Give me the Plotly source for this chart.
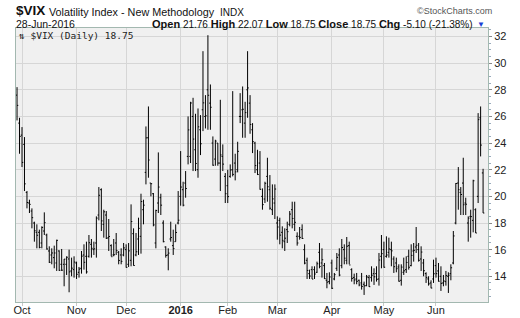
import pandas as pd
import plotly.graph_objects as go

# ---- data ----
holidays = ["2015-11-26", "2015-12-25", "2016-01-01", "2016-01-18",
            "2016-02-15", "2016-03-25", "2016-05-30"]
days = pd.bdate_range("2015-09-29", "2016-06-28")
dates = [d.strftime("%Y-%m-%d") for d in days if d.strftime("%Y-%m-%d") not in holidays]

opens = [27.6, 25.5, 24.6, 23.9, 20.3, 19.5, 18.9, 18.0, 17.3, 17.3,
         16.5, 17.4, 17.1, 15.9, 15.6, 15.4, 15.0, 15.9, 14.9, 14.9,
         14.9, 15.3, 14.4, 14.5, 15.0, 14.3, 14.6, 15.6, 15.5, 15.5,
         16.4, 16.0, 16.5, 18.6, 20.5, 17.9, 18.6, 16.9, 16.3, 15.6,
         16.5, 15.8, 15.6, 15.6, 16.0, 14.9, 15.2, 17.2, 15.6, 16.8,
         17.0, 19.0, 21.8, 24.4, 21.0, 20.2, 16.5, 19.5, 19.9, 18.0,
         16.2, 15.6, 16.8, 16.3, 16.6, 18.0, 20.0, 20.5, 21.0, 23.0,
         23.0, 26.0, 23.5, 22.0, 25.0, 26.5, 26.0, 28.0, 27.0, 24.0,
         22.8, 24.0, 22.5, 23.0, 21.5, 20.8, 21.5, 22.0, 22.5, 22.0,
         26.0, 26.5, 25.5, 28.0, 27.0, 25.0, 24.0, 22.0, 22.5, 20.0,
         19.8, 21.5, 20.5, 19.0, 19.5, 18.0, 18.2, 17.3, 16.6, 17.5,
         17.9, 19.0, 17.9, 17.0, 17.0, 17.5, 16.0, 15.2, 14.2, 14.5,
         14.5, 14.3, 15.8, 15.0, 14.8, 13.7, 13.6, 15.0, 13.8, 14.6,
         15.6, 14.8, 16.0, 15.2, 16.3, 14.5, 13.9, 13.8, 13.7, 13.5,
         13.4, 13.3, 13.9, 13.9, 14.2, 14.2, 13.8, 15.5, 16.0, 15.5,
         15.8, 16.0, 15.3, 15.0, 14.7, 13.7, 14.3, 14.5, 15.5, 14.8,
         15.9, 16.2, 16.0, 15.3, 15.0, 14.2, 13.8, 13.5, 13.8, 14.8,
         14.4, 14.0, 13.5, 13.6, 14.0, 14.2, 15.0, 18.0, 21.0, 20.3,
         21.0, 19.5, 18.0, 18.5, 18.2, 19.0, 20.0, 25.9, 21.76]
highs = [28.2, 25.9, 25.2, 24.45, 20.4, 19.75, 19.1, 18.1, 17.9, 17.5,
         17.75, 18.8, 17.2, 16.25, 16.1, 16.3, 16.75, 15.95, 16.05, 15.3,
         15.5, 16.0, 15.4, 15.5, 15.1, 14.7, 15.9, 16.4, 16.6, 17.1,
         16.8, 16.6, 18.5, 20.7, 20.6, 19.0, 18.9, 18.3, 16.4, 16.8,
         17.25, 15.9, 16.1, 16.5, 16.4, 16.5, 19.4, 17.6, 17.25, 18.4,
         20.2, 19.75, 25.25, 26.75, 21.0, 20.25, 19.0, 23.3, 20.2, 18.2,
         16.25, 16.1, 18.1, 17.5, 17.9, 20.4, 23.4, 21.1, 21.9, 26.0,
         27.1, 27.4, 26.2, 26.6, 26.1, 30.9, 27.6, 32.1, 28.4, 24.5,
         24.25, 24.0, 27.25, 23.9, 21.75, 22.0, 22.4, 27.9, 23.2, 24.1,
         27.75, 28.25, 27.1, 30.9, 27.6, 25.5, 24.1, 23.5, 23.4, 20.6,
         21.1, 22.9, 21.6, 20.9, 20.9, 18.5, 18.4, 17.75, 17.6, 18.1,
         18.9, 19.6, 19.6, 17.3, 17.7, 17.9, 16.4, 15.4, 14.5, 14.75,
         14.75, 15.1, 16.5, 16.1, 15.0, 14.25, 14.3, 15.25, 14.25, 15.75,
         16.1, 16.8, 16.4, 16.95, 16.6, 14.6, 14.2, 14.25, 13.75, 14.25,
         13.6, 14.1, 14.1, 14.75, 14.6, 14.75, 15.75, 17.1, 16.6, 17.0,
         16.9, 16.6, 15.5, 15.4, 14.9, 14.9, 15.4, 15.5, 16.0, 16.4,
         16.5, 17.7, 16.5, 16.25, 15.3, 14.3, 14.0, 13.7, 15.25, 15.4,
         15.0, 14.75, 14.1, 14.4, 14.3, 14.9, 17.4, 21.0, 22.2, 20.7,
         22.9, 19.9, 18.5, 19.0, 21.25, 19.1, 26.25, 26.75, 22.07]
lows = [25.7, 23.2, 22.2, 20.4, 19.1, 18.75, 17.6, 16.6, 16.1, 16.1,
        16.1, 17.1, 16.0, 15.0, 14.9, 14.6, 14.4, 14.4, 14.4, 13.25,
        14.1, 12.8, 14.0, 13.9, 13.8, 13.9, 14.2, 14.5, 14.2, 15.4,
        15.4, 15.6, 15.4, 18.2, 17.4, 16.9, 16.8, 15.9, 15.5, 15.5,
        15.6, 14.9, 14.9, 15.5, 14.65, 14.7, 14.75, 14.8, 15.5, 15.6,
        15.7, 17.9, 20.9, 21.4, 20.0, 17.75, 16.1, 18.75, 18.6, 16.55,
        15.4, 14.45, 16.6, 15.6, 16.6, 17.9, 19.3, 19.25, 19.9, 22.4,
        22.5, 21.9, 21.9, 21.4, 23.1, 24.9, 25.1, 25.0, 25.0, 22.3,
        22.3, 22.3, 20.4, 21.9, 19.5, 19.5, 21.4, 21.5, 21.2, 21.8,
        25.5, 24.4, 24.4, 25.9, 24.7, 23.25, 21.75, 21.6, 20.5, 19.0,
        19.5, 19.6, 19.0, 18.6, 18.3, 16.75, 16.4, 16.1, 15.9, 16.5,
        17.75, 17.6, 17.4, 16.3, 16.75, 16.8, 14.9, 13.8, 13.8, 13.8,
        13.8, 14.25, 14.6, 13.9, 13.8, 13.1, 13.4, 13.05, 13.7, 14.4,
        14.0, 14.6, 14.9, 14.9, 14.9, 13.6, 13.4, 13.4, 13.25, 13.0,
        12.6, 13.25, 13.2, 13.6, 13.35, 13.6, 13.3, 14.6, 14.65, 15.4,
        15.4, 14.75, 14.25, 14.3, 13.6, 13.3, 14.1, 14.25, 14.5, 14.75,
        15.1, 15.75, 15.1, 14.4, 14.0, 13.5, 13.3, 13.1, 13.5, 13.9,
        13.6, 12.9, 13.25, 13.3, 12.75, 13.7, 14.9, 17.9, 19.0, 18.6,
        18.6, 18.6, 16.6, 16.9, 17.3, 17.25, 19.5, 23.0, 18.75]
closes = [26.83, 24.50, 22.55, 20.94, 19.54, 19.40, 18.40, 17.42, 17.08, 16.17,
          17.67, 18.03, 16.05, 15.05, 15.75, 15.75, 16.70, 14.45, 14.46, 15.29,
          15.43, 14.33, 14.61, 15.07, 14.15, 14.54, 15.51, 15.05, 14.33, 16.52,
          16.10, 16.06, 18.37, 20.08, 18.16, 18.84, 16.85, 16.99, 15.47, 15.62,
          15.93, 15.19, 15.12, 16.13, 14.67, 15.91, 18.11, 14.81, 15.84, 17.60,
          19.61, 19.34, 24.39, 22.73, 20.95, 17.86, 18.94, 20.70, 19.34, 16.60,
          15.57, 15.74, 16.91, 16.08, 17.29, 18.21, 20.70, 19.34, 20.59, 24.99,
          27.01, 24.30, 22.47, 25.22, 23.95, 27.02, 26.05, 27.59, 26.69, 22.34,
          24.15, 22.50, 23.11, 22.42, 20.20, 19.98, 21.98, 21.65, 21.84, 23.38,
          26.00, 26.54, 26.29, 28.14, 25.40, 24.11, 22.31, 21.64, 20.53, 19.38,
          20.98, 20.72, 19.11, 19.81, 20.55, 17.70, 17.09, 16.70, 16.86, 17.35,
          18.67, 18.34, 18.05, 16.50, 16.92, 16.84, 14.99, 14.44, 14.02, 13.79,
          14.17, 14.94, 14.74, 15.24, 13.82, 13.56, 13.95, 13.10, 14.12, 15.42,
          14.09, 16.16, 15.36, 16.26, 14.85, 13.84, 13.72, 13.62, 13.35, 13.24,
          13.28, 13.95, 13.22, 14.08, 13.96, 13.77, 15.22, 15.70, 14.68, 15.60,
          16.05, 15.91, 14.72, 14.57, 13.63, 14.69, 14.41, 15.04, 14.68, 15.57,
          15.95, 16.33, 15.20, 15.82, 14.42, 13.90, 13.43, 13.12, 14.19, 14.20,
          13.63, 13.47, 13.65, 14.05, 14.08, 14.64, 17.03, 20.97, 20.50, 20.14,
          19.37, 19.41, 18.37, 18.48, 21.17, 17.25, 25.76, 23.85, 18.75]

month_ticks = ["2015-10-01", "2015-11-02", "2015-12-01", "2016-01-04", "2016-02-01",
               "2016-03-01", "2016-04-01", "2016-05-02", "2016-06-01"]
month_labels = ["Oct", "Nov", "Dec", "<b>2016</b>", "Feb", "Mar", "Apr", "May", "Jun"]
y_ticks = [14, 16, 18, 20, 22, 24, 26, 28, 30, 32]

# ---- figure ----
W, H = 520, 318
L, R, T, B = 16, 488, 28, 302
FONT = "Arial, Liberation Sans, sans-serif"

fig = go.Figure(go.Ohlc(
    x=dates, open=opens, high=highs, low=lows, close=closes,
    increasing=dict(line=dict(color="black", width=1)),
    decreasing=dict(line=dict(color="black", width=1)),
    tickwidth=0.5, showlegend=False, hoverinfo="skip",
))

def px(x):
    return (x - L) / (R - L)

def py(y):
    return (B - y) / (B - T)

ann = []
def add(text, x, y, size, color="#111", xanchor="left", family=FONT):
    ann.append(dict(text=text, x=px(x), y=py(y), xref="paper", yref="paper",
                    xanchor=xanchor, yanchor="middle", showarrow=False,
                    font=dict(family=family, size=size, color=color)))

def lab(t):
    return '<span style="font-size:11px"><b>%s</b></span>' % t

add("<b>$VIX</b>", 14, 11, 13.5)
add("Volatility Index - New Methodology", 47, 12, 10.8)
add("INDX", 218, 12, 10)
add("©StockCharts.com", 494, 11, 9, color="#555", xanchor="right")
add("28-Jun-2016", 14, 24, 10.5)
add(lab("Open") + " 21.76 " + lab("High") + " 22.07 " + lab("Low") + " 18.75 "
    + lab("Close") + " 18.75 " + lab("Chg") + " -5.10 (-21.38%)",
    475, 24, 10, xanchor="right")
add("▼", 475, 25, 8, color="#1a3fd6")
add("⇅ $VIX (Daily) 18.75", 17, 35, 9.5, color="#222",
    family="DejaVu Sans Mono, monospace")

fig.update_layout(
    width=W, height=H,
    margin=dict(l=L, r=W - R, t=T, b=H - B, pad=0, autoexpand=False),
    paper_bgcolor="white", plot_bgcolor="#f0f0f0",
    font=dict(family=FONT, size=11, color="#222"),
    annotations=ann,
    xaxis=dict(type="category", range=[-0.42, 189.98], automargin=False,
               tickmode="array", tickvals=month_ticks, ticktext=month_labels,
               showgrid=True, gridcolor="#d6d6d6", gridwidth=1,
               showline=True, linecolor="#a3b8b0", linewidth=1, mirror=True,
               ticks="outside", ticklen=3, tickcolor="#c8c8c8",
               ticklabelstandoff=-5,
               tickfont=dict(size=11, color="#222"),
               rangeslider=dict(visible=False), fixedrange=True),
    yaxis=dict(range=[12.07, 32.64], side="right", automargin=False,
               tickmode="array", tickvals=y_ticks,
               showgrid=True, gridcolor="#d6d6d6", gridwidth=1,
               showline=True, linecolor="#a3b8b0", linewidth=1, mirror=True,
               ticks="outside", ticklen=3, tickcolor="#888",
               minor=dict(ticks="outside", ticklen=2, dtick=0.5, tickcolor="#9ab",
                          showgrid=False),
               tickfont=dict(size=11, color="#222"), zeroline=False, fixedrange=True),
)

fig.write_html("out.html")
